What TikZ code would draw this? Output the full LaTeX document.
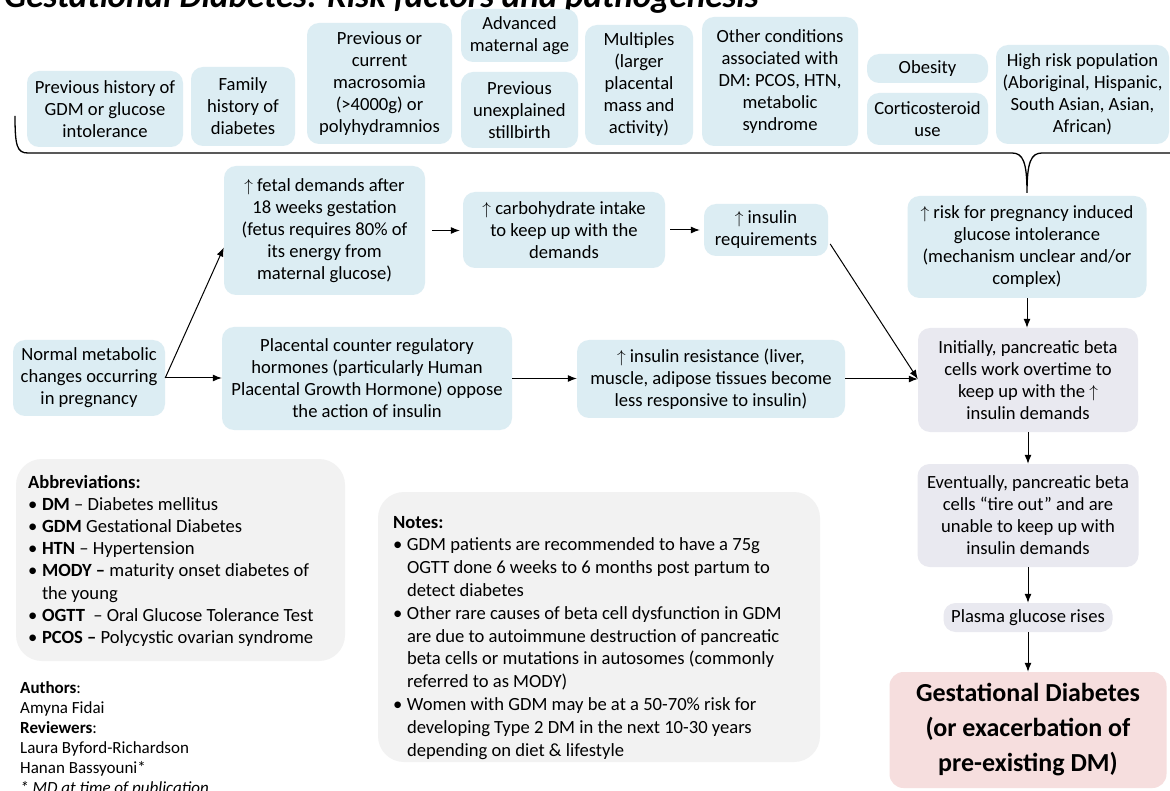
\documentclass[tikz,border=0pt]{standalone}
\usepackage{fontspec}
\setmainfont{Carlito}
\usetikzlibrary{calc,arrows.meta}

\definecolor{riskblue}{RGB}{220,237,243}
\definecolor{stepgrey}{RGB}{233,233,240}
\definecolor{notegrey}{RGB}{242,242,242}
\definecolor{outpink}{RGB}{246,222,222}
\newcommand{\boxfont}{\fontsize{18.6}{22}\selectfont}
\newcommand{\gestfont}{\fontsize{26}{35}\selectfont\bfseries}
\newcommand{\itm}{\makebox[14pt][l]{•}}

\begin{document}
\begin{tikzpicture}[
		x={(1pt,0pt)},
		y={(0pt,-1pt)},
		riskbox/.style={fill=riskblue,rounded corners=12pt,align=center,font=\boxfont,inner sep=1pt},
		cellbox/.style={fill=stepgrey,rounded corners=12pt,align=center,font=\boxfont,inner sep=1pt},
		legendbox/.style={fill=notegrey,rounded corners=26pt,inner sep=0pt},
		outcomebox/.style={fill=outpink,rounded corners=14pt,align=center,font=\gestfont,inner sep=1pt},
		arr/.style={-{Latex[length=9pt,width=7pt]},line width=1pt},
	]
		\fill[white] (0,0) rectangle (1170,791);
		\useasboundingbox (0,0) rectangle (1170,791);
		
		\node[anchor=base west,inner sep=0pt,font=\fontsize{35}{40}\selectfont\bfseries\itshape] (title) at (4,8) {Gestational Diabetes: Risk factors and pathogenesis};
		
		\foreach \nm/\cx/\cy/\w/\h/\txt in {
			prevgdm/105/109/156/76/{Previous history of\\GDM or glucose\\intolerance},
			family/243/106.5/104/79/{Family\\history of\\diabetes},
			macro/379.5/83.5/145/121/{Previous or\\current\\macrosomia\\(>4000g) or\\polyhydramnios},
			advage/519.5/35.5/117/53/{Advanced\\maternal age},
			stillbirth/519.5/110/117/76/{Previous\\unexplained\\stillbirth},
			multiples/639/85/108/120/{Multiples\\(larger\\placental\\mass and\\activity)},
			otherdm/780/81.5/156/129/{Other conditions\\associated with\\DM: PCOS, HTN,\\metabolic\\syndrome},
			obesity/927.5/68.5/121/29/{Obesity},
			cortico/927.5/119/121/52/{Corticosteroid\\use},
			highrisk/1082.5/94.5/173/99/{High risk population\\(Aboriginal, Hispanic,\\South Asian, Asian,\\African)}}{
			\node[riskbox,minimum width=\w pt,minimum height=\h pt] (\nm) at (\cx,\cy) {\txt};
		}
		
		\draw[line width=1.3pt] (15,116) .. controls (15,146) and (17,153) .. (28,153) -- (1012,153) .. controls (1023,153) and (1027,162) .. (1027,193) .. controls (1027,162) and (1031,153) .. (1042,153) -- (1175,153);
		
		\foreach \nm/\cx/\cy/\w/\h/\txt in {
			normal/89/378/152/76/{Normal metabolic\\changes occurring\\in pregnancy},
			fetal/324.5/230.5/201/129/{$\uparrow$ fetal demands after\\18 weeks gestation\\(fetus requires 80\% of\\its energy from\\maternal glucose)},
			carbo/564/230/202/76/{$\uparrow$ carbohydrate intake\\to keep up with the\\demands},
			insreq/766/230/124/52/{$\uparrow$ insulin\\requirements},
			placental/367/378.5/290/103/{Placental counter regulatory\\hormones (particularly Human\\Placental Growth Hormone) oppose\\the action of insulin},
			insres/711/379/268/78/{$\uparrow$ insulin resistance (liver,\\muscle, adipose tissues become\\less responsive to insulin)},
			risk/1027/247/239/102/{$\uparrow$ risk for pregnancy induced\\glucose intolerance\\(mechanism unclear and/or\\complex)}}{
			\node[riskbox,minimum width=\w pt,minimum height=\h pt] (\nm) at (\cx,\cy) {\txt};
		}
		
		\node[cellbox,minimum width=220pt,minimum height=104pt] (initially) at (1028,380) {Initially, pancreatic beta\\cells work overtime to\\keep up with the $\uparrow$\\insulin demands};
		\node[cellbox,minimum width=221pt,minimum height=103pt] (eventually) at (1028,515.5) {Eventually, pancreatic beta\\cells “tire out” and are\\unable to keep up with\\insulin demands};
		\node[cellbox,minimum width=169pt,minimum height=29pt] (plasma) at (1028,617.5) {Plasma glucose rises};
		\node[outcomebox,minimum width=277pt,minimum height=116pt] (gest) at (1028,730) {Gestational Diabetes\\(or exacerbation of\\pre-existing DM)};
		
		\draw[arr] (normal.east) -- ([yshift=-17pt]fetal.west);
		\draw[arr] (normal.east) -- (normal.east -| placental.west);
		\draw[arr,shorten <=7pt,shorten >=3pt] (fetal.east) -- (fetal.east -| carbo.west);
		\draw[arr,shorten <=5pt,shorten >=4pt] (carbo.east) -- (carbo.east -| insreq.west);
		\draw[arr] (placental.east) -- (placental.east -| insres.west);
		\draw[arr] (insres.east) -- (insres.east -| initially.west);
		\draw[arr] ([xshift=2pt,yshift=-14pt]insreq.east) -- (insres.east -| initially.west);
		\draw[arr] (risk.south) -- (risk.south |- initially.north);
		\draw[arr] (initially.south) -- (initially.south |- eventually.north);
		\draw[arr] (eventually.south) -- (eventually.south |- plasma.north);
		\draw[arr] (plasma.south) -- (plasma.south |- gest.north);
		
		\node[legendbox,minimum width=329pt,minimum height=202pt] (abbrev) at (180.5,560) {};
		\node[anchor=north west,inner sep=0pt,align=left,font=\fontsize{18.6}{22.2}\selectfont] (abbrevtext) at ([xshift=12pt,yshift=-16pt]abbrev.north west) {\textbf{Abbreviations:}\\
			\itm\textbf{DM} – Diabetes mellitus\\
			\itm\textbf{GDM} Gestational Diabetes\\
			\itm\textbf{HTN} – Hypertension\\
			\itm\textbf{MODY –} maturity onset diabetes of\\
			\hspace*{14pt}the young\\
			\itm\textbf{OGTT} \ – Oral Glucose Tolerance Test\\
			\itm\textbf{PCOS –} Polycystic ovarian syndrome};
		
		\node[legendbox,minimum width=442pt,minimum height=270pt] (notes) at (599,627) {};
		\node[anchor=north west,inner sep=0pt,align=left,font=\fontsize{18.6}{22.8}\selectfont] (notestext) at ([xshift=15pt,yshift=-24pt]notes.north west) {\textbf{Notes:}\\
			\itm GDM patients are recommended to have a 75g\\
			\hspace*{14pt}OGTT done 6 weeks to 6 months post partum to\\
			\hspace*{14pt}detect diabetes\\
			\itm Other rare causes of beta cell dysfunction in GDM\\
			\hspace*{14pt}are due to autoimmune destruction of pancreatic\\
			\hspace*{14pt}beta cells or mutations in autosomes (commonly\\
			\hspace*{14pt}referred to as MODY)\\
			\itm Women with GDM may be at a 50-70\% risk for\\
			\hspace*{14pt}developing Type 2 DM in the next 10-30 years\\
			\hspace*{14pt}depending on diet \& lifestyle};
		
		\node[anchor=north west,inner sep=0pt,align=left,font=\fontsize{17}{20}\selectfont] (credits) at (20,681) {\textbf{Authors}:\\Amyna Fidai\\\textbf{Reviewers}:\\Laura Byford-Richardson\\Hanan Bassyouni*\\\textit{* MD at time of publication}};
	\end{tikzpicture}
\end{document}
